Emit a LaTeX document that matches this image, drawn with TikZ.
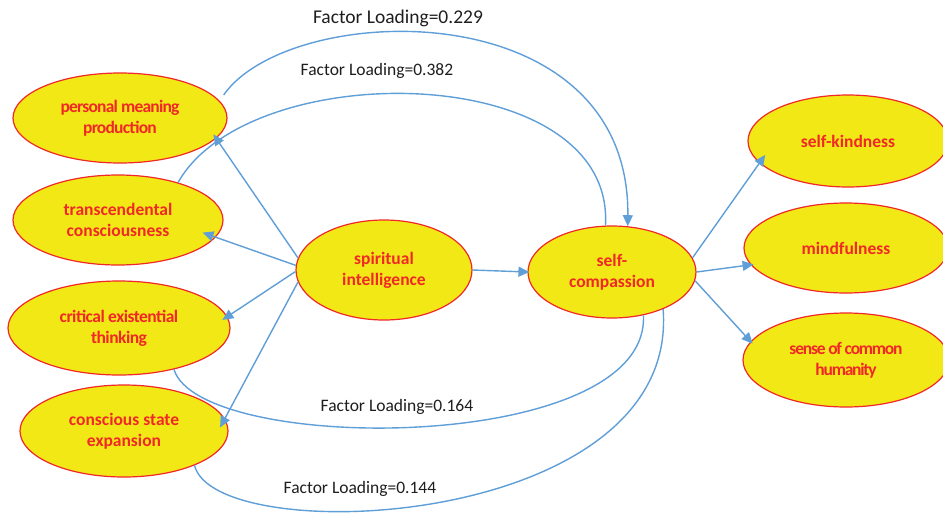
\documentclass[tikz,border=0pt]{standalone}
\usepackage{fontspec}
\setmainfont{Carlito}
\usetikzlibrary{shapes.geometric,arrows.meta}
\definecolor{elfill}{RGB}{242,232,22}
\definecolor{elred}{RGB}{240,40,40}
\definecolor{lnblue}{RGB}{95,158,215}
\definecolor{lbl}{RGB}{30,30,30}
\tikzset{
  factor/.style={ellipse, draw=elred, line width=1.2pt, fill=elfill, inner sep=0pt,
    text=elred, align=center, font=\fontsize{17.5}{21}\selectfont\bfseries},
  conn/.style={draw=lnblue, line width=1.4pt},
  arr/.style={conn, -{Triangle[length=11pt,width=10pt]}},
  loadlbl/.style={text=lbl, font=\fontsize{17.5}{20}\selectfont, inner sep=0pt}
}
\begin{document}
\begin{tikzpicture}[x=1pt,y=-1pt]
\useasboundingbox (0,0) rectangle (943,515);
% nodes
\node[factor, minimum width=214pt, minimum height=90pt] (pm) at (120,118)
  {\addfontfeature{LetterSpace=-4.5}personal meaning\\\addfontfeature{LetterSpace=-4.5}production};
\node[factor, minimum width=210pt, minimum height=90pt] (tc) at (118,220)
  {transcendental\\consciousness};
\node[factor, minimum width=222pt, minimum height=94pt] (ce) at (119,328)
  {\addfontfeature{LetterSpace=-3}critical existential\\\addfontfeature{LetterSpace=-3}thinking};
\node[factor, minimum width=208pt, minimum height=92pt] (cs) at (124,431)
  {conscious state\\expansion};
\node[factor, minimum width=176pt, minimum height=100pt] (si) at (384,270)
  {spiritual\\intelligence};
\node[factor, minimum width=168pt, minimum height=92pt] (sc) at (612,272)
  {self-\\compassion};
\node[factor, minimum width=200pt, minimum height=92pt] (sk) at (848,141)
  {self-kindness};
\node[factor, minimum width=204pt, minimum height=90pt] (mf) at (846,248)
  {mindfulness};
\node[factor, minimum width=206pt, minimum height=94pt] (sch) at (846,360)
  {\addfontfeature{LetterSpace=-7}sense of common\\\addfontfeature{LetterSpace=-7}humanity};
% straight arrows
\draw[arr, shorten >=-5pt] (si.172) -- (pm.-12);
\draw[arr, shorten >=-14pt] (si.177) -- (tc.-10);
\draw[arr, shorten >=-6pt] (si.181) -- (ce.6);
\draw[arr, shorten >=-10pt] (si.188) -- (cs.7);
\draw[arr, shorten >=-2pt] (si.east) -- (sc.west);
\draw[arr, shorten >=-10pt] (sc.10) -- (sk.194);
\draw[arr, shorten >=-3pt] (sc.0) -- (mf.190);
\draw[arr, shorten >=-3pt] (sc.-6) -- (sch.169);
% curved connectors
\draw[arr] ([xshift=11pt]pm.14) .. controls (290,0) and (630,-10) .. (sc.71);
\draw[conn] (tc.32) .. controls (250,55) and (615,60) .. (sc.98);
\draw[conn] (ce.-37) .. controls (200,455) and (650,455) .. (sc.-54);
\draw[conn] (cs.-26) .. controls (215,550) and (680,530) .. (sc.-36);
% labels
\node[loadlbl, font=\fontsize{19.5}{22}\selectfont] (l229) at (398,18) {Factor Loading=0.229};
\node[loadlbl] (l382) at (377,71) {Factor Loading=0.382};
\node[loadlbl] (l164) at (397,407) {Factor Loading=0.164};
\node[loadlbl] (l144) at (360,489) {Factor Loading=0.144};
\end{tikzpicture}
\end{document}
